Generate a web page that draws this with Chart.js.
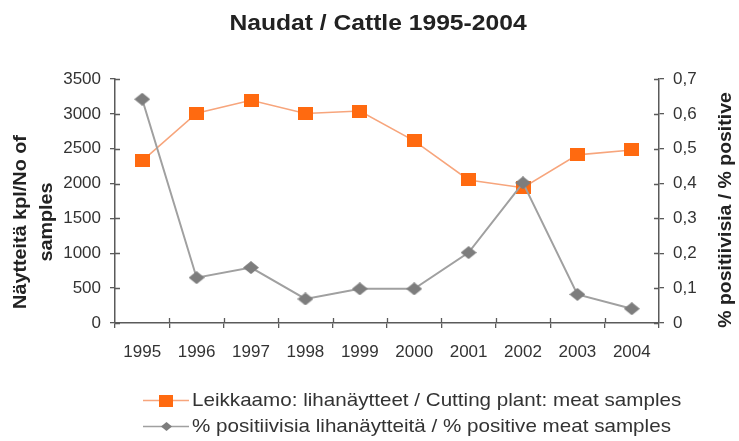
<!DOCTYPE html>
<html><head><meta charset="utf-8">
<script src="https://cdn.jsdelivr.net/npm/chart.js@4/dist/chart.umd.min.js"></script>
<style>html,body{margin:0;padding:0;background:#fff}canvas{display:block}</style>
</head><body>
<canvas id="c" width="739" height="441"></canvas>
<script>
const years = ['1995','1996','1997','1998','1999','2000','2001','2002','2003','2004'];
const samples = [2325, 3010, 3195, 3005, 3040, 2612, 2052, 1940, 2412, 2482];
const positivePct = [0.642, 0.130, 0.159, 0.069, 0.098, 0.098, 0.202, 0.402, 0.082, 0.041];
const seriesNames = ['Leikkaamo: lihanäytteet / Cutting plant: meat samples', '% positiivisia lihanäytteitä / % positive meat samples'];
const leftTicks = [0, 500, 1000, 1500, 2000, 2500, 3000, 3500];
const rightTicks = ['0', '0,1', '0,2', '0,3', '0,4', '0,5', '0,6', '0,7'];
const chartTitle = 'Naudat / Cattle 1995-2004';
const leftTitle = ['Näytteitä kpl/No of', 'samples'];
const rightTitle = '% positiivisia / % positive';

const FONT = "'Liberation Sans', Arial, sans-serif";
const ORANGE_LINE = '#f7a57c', ORANGE = '#ff6a10', GRAY_LINE = '#a0a0a0', GRAY = '#7d7d7d', AXIS = '#5a5a5a';

function markerImage(kind, w, h, color) {
  const cv = document.createElement('canvas');
  cv.width = w; cv.height = h;
  const g = cv.getContext('2d');
  g.fillStyle = color;
  if (kind === 'rect') g.fillRect(0, 0, w, h);
  else { g.beginPath(); g.moveTo(w / 2, 0); g.lineTo(w, h / 2); g.lineTo(w / 2, h); g.lineTo(0, h / 2); g.closePath(); g.fill(); }
  return cv;
}
const squareMark = markerImage('rect', 15, 13, ORANGE);
const diamondMark = markerImage('diamond', 16, 13, GRAY);
const squareLegend = markerImage('rect', 14, 12, ORANGE);
const diamondLegend = markerImage('diamond', 11, 9, GRAY);

function stretchedText(ctx, text, x, y, sx) {
  ctx.save(); ctx.translate(x, y); ctx.scale(sx, 1); ctx.fillText(text, 0, 0); ctx.restore();
}

const decor = {
  id: 'decor',
  afterDraw(chart) {
    const ctx = chart.ctx, a = chart.chartArea;
    ctx.save();
    // inner half of crossing tick marks
    ctx.strokeStyle = AXIS; ctx.lineWidth = 1.3;
    const ys = chart.scales.y, y1 = chart.scales.y1, xs = chart.scales.x;
    ctx.beginPath();
    ys.ticks.forEach(t => { const p = Math.round(ys.getPixelForValue(t.value)) + 0.5; ctx.moveTo(a.left, p); ctx.lineTo(a.left + 5, p); });
    y1.ticks.forEach(t => { const p = Math.round(y1.getPixelForValue(t.value)) + 0.5; ctx.moveTo(a.right, p); ctx.lineTo(a.right - 5, p); });
    for (let i = 1; i < years.length; i++) {
      const p = Math.round((xs.getPixelForValue(i - 1) + xs.getPixelForValue(i)) / 2) + 0.5;
      ctx.moveTo(p, a.bottom); ctx.lineTo(p, a.bottom - 5);
    }
    ctx.stroke();
    // main title
    ctx.fillStyle = '#222';
    ctx.textAlign = 'center'; ctx.textBaseline = 'middle';
    ctx.font = "bold 22px " + FONT;
    stretchedText(ctx, chartTitle, 378, 24, 1.12);
    // left axis title (two lines, reading bottom to top)
    ctx.font = "bold 18px " + FONT;
    ctx.save();
    ctx.translate(21, 222); ctx.rotate(-Math.PI / 2);
    stretchedText(ctx, leftTitle[0], 0, 0, 1.1);
    stretchedText(ctx, leftTitle[1], 0, 26, 1.1);
    ctx.restore();
    // right axis title (reading bottom to top)
    ctx.save();
    ctx.translate(726, 210); ctx.rotate(-Math.PI / 2);
    stretchedText(ctx, rightTitle, 0, 0, 1.08);
    ctx.restore();
    // legend
    ctx.font = "19px " + FONT; ctx.textAlign = 'left';
    const rows = [400, 426];
    rows.forEach((ry, i) => {
      ctx.strokeStyle = i === 0 ? ORANGE_LINE : GRAY_LINE; ctx.lineWidth = 1.6;
      ctx.beginPath(); ctx.moveTo(143, ry + 0.5); ctx.lineTo(189, ry + 0.5); ctx.stroke();
      const m = i === 0 ? squareLegend : diamondLegend;
      ctx.drawImage(m, Math.round(166 - m.width / 2), Math.round(ry + 0.5 - m.height / 2));
      ctx.fillStyle = '#333';
      stretchedText(ctx, seriesNames[i], 192, ry + 1, 1.085);
    });
    ctx.restore();
  }
};

new Chart(document.getElementById('c'), {
  type: 'line',
  data: {
    labels: years,
    datasets: [
      { label: seriesNames[0], data: samples, yAxisID: 'y', borderColor: ORANGE_LINE, backgroundColor: ORANGE,
        pointStyle: squareMark, pointRadius: 8, borderWidth: 1.6, tension: 0, order: 2 },
      { label: seriesNames[1], data: positivePct, yAxisID: 'y1', borderColor: GRAY_LINE, backgroundColor: GRAY,
        pointStyle: diamondMark, pointRadius: 8, borderWidth: 2, tension: 0, order: 1 }
    ]
  },
  options: {
    responsive: false, animation: false,
    layout: { padding: { left: 0, right: 0, top: 79, bottom: 0 } },
    plugins: { title: { display: false }, legend: { display: false }, tooltip: { enabled: false } },
    scales: {
      x: {
        offset: true,
        afterFit: (s) => { s.height = 118; },
        grid: { display: true, drawOnChartArea: false, offset: true, color: AXIS, tickLength: 5, lineWidth: 1.3 },
        border: { color: AXIS, width: 1.5 },
        ticks: { color: '#333', font: { family: FONT, size: 17 }, padding: 14, maxRotation: 0, autoSkip: false }
      },
      y: {
        position: 'left', min: 0, max: 3500,
        afterFit: (s) => { s.width = 115; },
        afterBuildTicks: (s) => { s.ticks = leftTicks.map(v => ({ value: v })); },
        grid: { drawOnChartArea: false, color: AXIS, tickLength: 5, lineWidth: 1.3 },
        border: { color: AXIS, width: 1.5 },
        ticks: { color: '#333', font: { family: FONT, size: 17 }, padding: 9, callback: (v) => String(v) }
      },
      y1: {
        position: 'right', min: 0, max: 0.7,
        afterFit: (s) => { s.width = 80; },
        afterBuildTicks: (s) => { s.ticks = rightTicks.map((t, i) => ({ value: i / 10 })); },
        grid: { drawOnChartArea: false, color: AXIS, tickLength: 5, lineWidth: 1.3 },
        border: { color: AXIS, width: 1.5 },
        ticks: { color: '#333', font: { family: FONT, size: 17 }, padding: 9, callback: (v, i) => rightTicks[i] }
      }
    }
  },
  plugins: [decor]
});
</script>
</body></html>
